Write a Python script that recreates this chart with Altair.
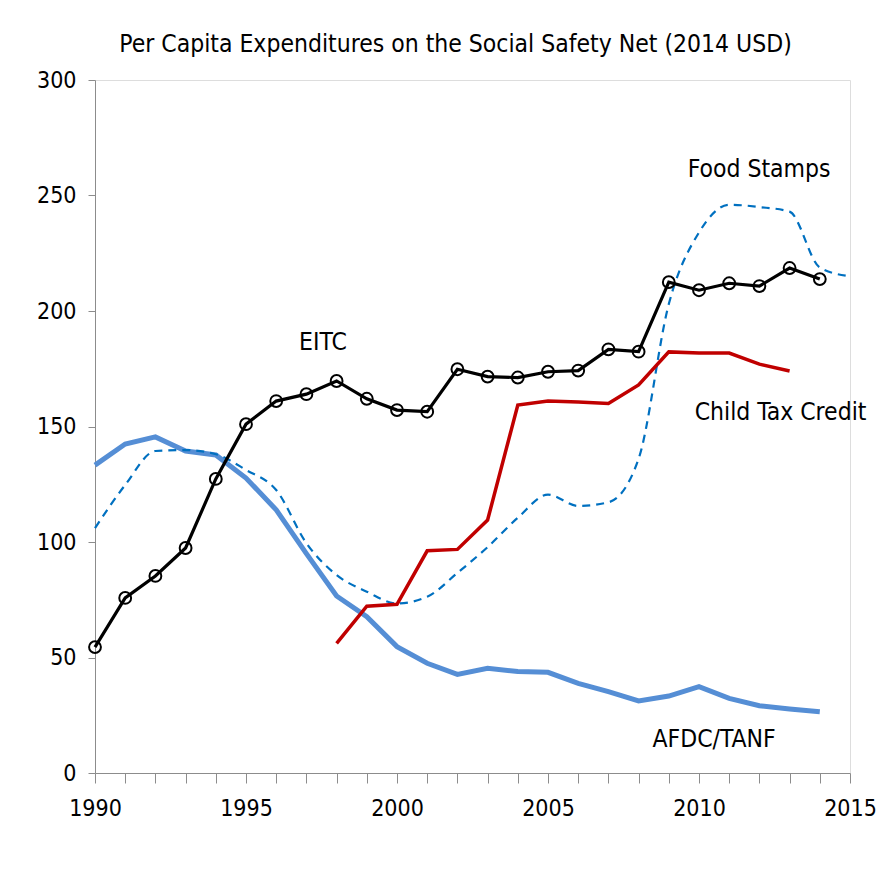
import altair as alt
import pandas as pd

years_main = list(range(1990, 2015))
years_fs = list(range(1990, 2016))
years_ctc = list(range(1998, 2014))

eitc = [54.5, 75.8, 85.3, 97.4, 127.3, 151.0, 161.0, 164.0, 169.7, 162.0,
        157.1, 156.4, 174.8, 171.6, 171.2, 173.7, 174.2, 183.4, 182.4, 212.5,
        209.0, 212.0, 210.8, 218.6, 213.8]
afdc = [133.3, 142.4, 145.5, 139.4, 137.7, 127.7, 113.9, 95.0, 76.6, 67.7,
        54.7, 47.5, 42.7, 45.3, 43.9, 43.6, 38.8, 35.2, 31.2, 33.3,
        37.4, 32.3, 29.1, 27.7, 26.5]
food = [106.0, 124.7, 139.4, 139.8, 138.0, 131.2, 122.5, 99.5, 85.7, 78.5,
        73.4, 76.3, 86.6, 97.8, 110.5, 120.5, 115.6, 117.2, 136.0, 203.0,
        234.0, 246.0, 245.0, 243.0, 218.8, 215.0]
ctc = [56.1, 72.2, 73.0, 96.2, 96.8, 109.5, 159.3, 161.0, 160.6, 160.0,
       168.0, 182.3, 181.8, 181.8, 177.0, 174.0]

label_text = ["EITC", "Food Stamps", "Child Tax Credit", "AFDC/TANF"]
label_year = [1997.55, 2011.99, 2012.7, 2010.5]
label_value = [186, 261, 156, 14.3]

FONT = "Liberation Sans Narrow, DejaVu Sans Condensed, sans-serif"

df_eitc = pd.DataFrame({"year": years_main, "value": eitc})
df_afdc = pd.DataFrame({"year": years_main, "value": afdc})
df_food = pd.DataFrame({"year": years_fs, "value": food})
df_ctc = pd.DataFrame({"year": years_ctc, "value": ctc})
df_lab = pd.DataFrame({"text": label_text, "year": label_year, "value": label_value})

x = alt.X("year:Q", scale=alt.Scale(domain=[1990, 2015], nice=False, zero=False),
          axis=alt.Axis(values=list(range(1990, 2016)), format="d",
                        labelExpr="datum.value % 5 == 0 ? datum.label : ''",
                        title=None, grid=False, tickSize=10, labelPadding=14,
                        labelFontSize=23, labelFont=FONT, labelColor="black",
                        domainColor="#8c8c8c", tickColor="#8c8c8c", labelFlush=False))
y = alt.Y("value:Q", scale=alt.Scale(domain=[0, 300], nice=False),
          axis=alt.Axis(values=[0, 50, 100, 150, 200, 250, 300], title=None, grid=False,
                        tickSize=7, labelPadding=12, labelFontSize=23, labelFont=FONT,
                        labelColor="black", domainColor="#8c8c8c", tickColor="#8c8c8c"))

afdc_line = alt.Chart(df_afdc).mark_line(color="#558ED5", strokeWidth=5).encode(x=x, y=y)
food_line = alt.Chart(df_food).mark_line(color="#0070C0", strokeWidth=2.2,
                                          strokeDash=[8, 6], interpolate="monotone").encode(x=x, y=y)
ctc_line = alt.Chart(df_ctc).mark_line(color="#C00000", strokeWidth=3.5).encode(x=x, y=y)
eitc_line = alt.Chart(df_eitc).mark_line(color="black", strokeWidth=3.2).encode(x=x, y=y)
eitc_pts = alt.Chart(df_eitc).mark_point(shape="circle", filled=False, color="black",
                                         size=140, strokeWidth=2, opacity=1).encode(x=x, y=y)
labels = alt.Chart(df_lab).mark_text(font=FONT, fontSize=24.5, color="black",
                                     baseline="middle", align="center").encode(
    x=x, y=y, text="text:N")

chart = alt.layer(afdc_line, food_line, ctc_line, eitc_line, eitc_pts, labels).properties(
    width=755, height=693,
    autosize=alt.AutoSizeParams(type="none"),
    padding={"left": 87, "top": 72, "right": 30, "bottom": 80},
    title=alt.TitleParams("Per Capita Expenditures on the Social Safety Net (2014 USD)",
                          font=FONT, fontSize=24.5, fontWeight="normal", color="black",
                          anchor="middle", offset=12, dx=-17),
).configure_view(stroke="#bfbfbf", strokeWidth=1).configure(background="white")

chart.save("out.html", embed_options={"renderer": "svg", "actions": False})
